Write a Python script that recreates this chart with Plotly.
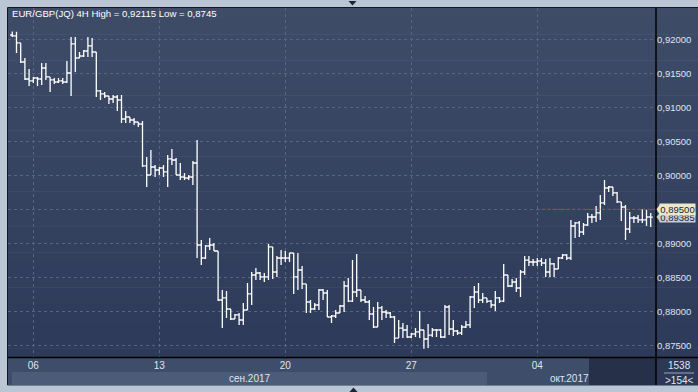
import plotly.graph_objects as go

# ---------------- data (EUR/GBP 4H bars) ----------------
opens = [0.92063,0.92049,0.91946,0.91666,0.91416,0.91387,0.91431,0.91416,0.91578,0.91446,
         0.91402,0.91372,0.91387,0.91372,0.91504,0.91931,0.91725,0.91754,0.91828,0.91902,
         0.91813,0.91240,0.91196,0.91166,0.91122,0.91151,0.91107,0.90828,0.90857,0.90813,
         0.90784,0.90754,0.90137,0.90004,0.90122,0.90078,0.90107,0.90049,0.90240,0.90225,
         0.90004,0.89975,0.89960,0.89975,0.90181,0.88975,0.88784,0.88960,0.88975,0.88887,
         0.88166,0.88196,0.88034,0.87887,0.87946,0.87872,0.88019,0.88255,0.88534,0.88563,
         0.88505,0.88505,0.88946,0.88578,0.88784,0.88784,0.88784,0.88857,0.88505,0.88607,
         0.88402,0.88137,0.88034,0.88093,0.88313,0.88269,0.87916,0.87931,0.87975,0.88078,
         0.88372,0.88151,0.88284,0.88313,0.88166,0.88137,0.87960,0.87769,0.88049,0.87990,
         0.87975,0.87916,0.87607,0.87754,0.87725,0.87622,0.87666,0.87696,0.87725,0.87593,
         0.87651,0.87725,0.87725,0.87622,0.88063,0.87740,0.87710,0.87681,0.87769,0.87799,
         0.88210,0.88284,0.88166,0.88196,0.88151,0.88093,0.88196,0.88151,0.88534,0.88372,
         0.88431,0.88343,0.88578,0.88754,0.88725,0.88725,0.88740,0.88710,0.88578,0.88696,
         0.88622,0.88784,0.88828,0.88784,0.89254,0.89299,0.89166,0.89269,0.89387,0.89387,
         0.89446,0.89593,0.89813,0.89828,0.89740,0.89608,0.89534,0.89210,0.89372,0.89372,
         0.89343,0.89343,0.89387]
highs = [0.92115,0.92110,0.91946,0.91725,0.91563,0.91446,0.91446,0.91651,0.91651,0.91446,
         0.91431,0.91431,0.91431,0.91681,0.92034,0.92034,0.91813,0.91843,0.92034,0.92019,
         0.91813,0.91254,0.91225,0.91166,0.91181,0.91181,0.91181,0.90946,0.90857,0.90843,
         0.90784,0.90799,0.90269,0.90372,0.90152,0.90122,0.90152,0.90299,0.90387,0.90255,
         0.90181,0.90034,0.90004,0.90210,0.90519,0.89049,0.88975,0.89078,0.89005,0.88887,
         0.88313,0.88299,0.88034,0.87960,0.87975,0.88122,0.88416,0.88578,0.88637,0.88578,
         0.88563,0.88990,0.88946,0.88813,0.88901,0.88887,0.88857,0.88857,0.88857,0.88666,
         0.88402,0.88166,0.88122,0.88328,0.88328,0.88313,0.87946,0.88019,0.88093,0.88446,
         0.88490,0.88754,0.88843,0.88313,0.88225,0.88166,0.88063,0.88137,0.88078,0.88019,
         0.87990,0.87931,0.87872,0.87828,0.87799,0.87681,0.87754,0.88005,0.87725,0.87813,
         0.87754,0.87740,0.87740,0.88093,0.88093,0.87872,0.87725,0.87799,0.87857,0.88225,
         0.88372,0.88416,0.88269,0.88196,0.88166,0.88299,0.88210,0.88696,0.88534,0.88475,
         0.88490,0.88607,0.88813,0.88813,0.88769,0.88784,0.88784,0.88769,0.88784,0.88710,
         0.88799,0.88843,0.88843,0.89343,0.89313,0.89328,0.89299,0.89446,0.89431,0.89549,
         0.89710,0.89931,0.89843,0.89828,0.89755,0.89608,0.89563,0.89460,0.89402,0.89416,
         0.89505,0.89490,0.89446]
lows = [0.92034,0.91799,0.91651,0.91402,0.91313,0.91357,0.91313,0.91328,0.91402,0.91225,
        0.91343,0.91357,0.91343,0.91357,0.91166,0.91519,0.91725,0.91740,0.91740,0.91740,
        0.91151,0.91107,0.91137,0.91049,0.91063,0.90946,0.90769,0.90769,0.90769,0.90740,
        0.90710,0.90122,0.89828,0.90004,0.89975,0.90004,0.89975,0.89828,0.90152,0.90004,
        0.89931,0.89931,0.89931,0.89857,0.88784,0.88681,0.88769,0.88901,0.88887,0.88151,
        0.87754,0.87902,0.87872,0.87887,0.87799,0.87799,0.88019,0.88093,0.88460,0.88460,
        0.88431,0.88460,0.88475,0.88505,0.88681,0.88725,0.88725,0.88255,0.88313,0.88328,
        0.87975,0.87975,0.88019,0.88019,0.88166,0.87916,0.87828,0.87902,0.87975,0.87990,
        0.88137,0.88137,0.88210,0.88137,0.88122,0.87872,0.87754,0.87769,0.87872,0.87902,
        0.87902,0.87534,0.87607,0.87607,0.87607,0.87607,0.87622,0.87607,0.87450,0.87460,
        0.87622,0.87622,0.87607,0.87607,0.87651,0.87637,0.87651,0.87651,0.87754,0.87754,
        0.88049,0.88122,0.88122,0.88122,0.88049,0.88005,0.88122,0.88137,0.88357,0.88357,
        0.88284,0.88210,0.88534,0.88666,0.88666,0.88666,0.88666,0.88505,0.88505,0.88505,
        0.88622,0.88769,0.88754,0.88754,0.89078,0.89093,0.89122,0.89254,0.89299,0.89313,
        0.89343,0.89563,0.89755,0.89696,0.89593,0.89328,0.89049,0.89152,0.89299,0.89299,
        0.89299,0.89254,0.89240]
closes = [0.92049,0.91946,0.91666,0.91416,0.91387,0.91431,0.91416,0.91578,0.91446,0.91402,
          0.91372,0.91387,0.91372,0.91504,0.91931,0.91725,0.91754,0.91828,0.91902,0.91813,
          0.91240,0.91196,0.91166,0.91122,0.91151,0.91107,0.90828,0.90857,0.90813,0.90784,
          0.90754,0.90137,0.90004,0.90122,0.90078,0.90107,0.90049,0.90240,0.90225,0.90004,
          0.89975,0.89960,0.89975,0.90181,0.88975,0.88784,0.88960,0.88975,0.88887,0.88166,
          0.88196,0.88034,0.87887,0.87946,0.87872,0.88019,0.88255,0.88534,0.88563,0.88505,
          0.88505,0.88946,0.88578,0.88784,0.88784,0.88784,0.88857,0.88505,0.88607,0.88402,
          0.88137,0.88034,0.88093,0.88313,0.88269,0.87916,0.87931,0.87975,0.88078,0.88372,
          0.88151,0.88284,0.88313,0.88166,0.88137,0.87960,0.87769,0.88049,0.87990,0.87975,
          0.87916,0.87607,0.87754,0.87725,0.87622,0.87666,0.87696,0.87725,0.87593,0.87651,
          0.87725,0.87725,0.87622,0.88063,0.87740,0.87710,0.87681,0.87769,0.87799,0.88210,
          0.88284,0.88166,0.88196,0.88151,0.88093,0.88196,0.88151,0.88534,0.88372,0.88431,
          0.88343,0.88578,0.88754,0.88725,0.88725,0.88740,0.88710,0.88578,0.88696,0.88622,
          0.88784,0.88828,0.88784,0.89254,0.89299,0.89166,0.89269,0.89387,0.89387,0.89446,
          0.89593,0.89813,0.89828,0.89740,0.89608,0.89534,0.89210,0.89372,0.89372,0.89343,
          0.89343,0.89387,0.89385]
bar_index = list(range(len(closes)))

x_tick_vals = [5, 35, 65, 95, 125]
x_tick_text = ["06", "13", "20", "27", "04"]
y_tick_vals = [0.875, 0.880, 0.885, 0.890, 0.895, 0.900, 0.905, 0.910, 0.915, 0.920]
y_tick_text = ["0,87500", "0,88000", "0,88500", "0,89000", "0,89500",
               "0,90000", "0,90500", "0,91000", "0,91500", "0,92000"]
month_labels = ["сен.2017", "окт.2017"]
title_text = "EUR/GBP(JQ) 4H High = 0,92115 Low = 0,8745"
level_price = 0.895
level_label = "0,89500"
last_label = "0,89385"
last_price = closes[-1]
bars_total = "1538"
bars_visible = ">154<"

# ---------------- layout geometry (pixels) ----------------
W, H = 698, 392
L, R, T, B = 8, 656, 8, 357
FONT = "Liberation Sans, Arial, sans-serif"
FS = 9
TXT = "#dde6f0"


def px(x):
    return (x - L) / (R - L)


def py(y):
    return (B - y) / (B - T)


fig = go.Figure()
fig.add_trace(go.Ohlc(
    x=bar_index, open=opens, high=highs, low=lows, close=closes,
    increasing=dict(line=dict(color="#ffffff", width=1.3)),
    decreasing=dict(line=dict(color="#ffffff", width=1.3)),
    tickwidth=0.5, hoverinfo="skip", showlegend=False,
))

shapes = []
# gradient background for plot + right axis panel
top_c = (62, 76, 104)
bot_c = (45, 58, 89)
n = 40
for k in range(n):
    y0 = T + (B - T) * k / n
    y1 = T + (B - T) * (k + 1) / n
    f = (k + 0.5) / n
    c = tuple(int(round(top_c[j] + (bot_c[j] - top_c[j]) * f)) for j in range(3))
    shapes.append(dict(type="rect", xref="paper", yref="paper", layer="below",
                       x0=px(L), x1=px(W), y0=py(y1 + 0.5), y1=py(y0),
                       fillcolor="rgb(%d,%d,%d)" % c, line=dict(width=0)))
# bottom axis panel
shapes += [
    dict(type="rect", xref="paper", yref="paper", layer="below", x0=px(L), x1=px(R),
         y0=py(385), y1=py(357), fillcolor="#3e4d6a", line=dict(width=0)),
    dict(type="rect", xref="paper", yref="paper", layer="below", x0=px(12), x1=px(487),
         y0=py(385), y1=py(372), fillcolor="#4b5b78", line=dict(width=0)),
    dict(type="rect", xref="paper", yref="paper", layer="below", x0=px(589), x1=px(R),
         y0=py(385), y1=py(357), fillcolor="#263049", line=dict(width=0)),
    dict(type="rect", xref="paper", yref="paper", layer="below", x0=px(R), x1=px(W),
         y0=py(385), y1=py(357), fillcolor="#2c3856", line=dict(width=0)),
]
# frame lines
dark = "#11161f"
shapes += [
    dict(type="line", xref="paper", yref="paper", x0=px(7.5), x1=px(7.5), y0=py(385), y1=py(7.5),
         line=dict(color=dark, width=1)),
    dict(type="line", xref="paper", yref="paper", x0=px(7.5), x1=px(W), y0=py(7.5), y1=py(7.5),
         line=dict(color=dark, width=1)),
    dict(type="line", xref="paper", yref="paper", x0=px(656), x1=px(656), y0=py(385), y1=py(8),
         line=dict(color="#000000", width=1.5)),
    dict(type="line", xref="paper", yref="paper", x0=px(8), x1=px(W), y0=py(357.5), y1=py(357.5),
         line=dict(color="#000000", width=1.5)),
    dict(type="line", xref="paper", yref="paper", x0=px(7.5), x1=px(W), y0=py(385.5), y1=py(385.5),
         line=dict(color="#6f7f96", width=1)),
    dict(type="line", xref="paper", yref="paper", x0=px(664), x1=px(694), y0=py(373), y1=py(373),
         line=dict(color="#9aa8bc", width=1)),
]
# small scroll arrows at top and bottom
shapes += [
    dict(type="path", xref="paper", yref="paper",
         path="M %f %f L %f %f L %f %f Z" % (px(348.5), py(1), px(356.5), py(1), px(352.5), py(5.5)),
         fillcolor="#1d2533", line=dict(width=0)),
    dict(type="path", xref="paper", yref="paper",
         path="M %f %f L %f %f L %f %f Z" % (px(349.5), py(392), px(357.5), py(392), px(353.5), py(387.5)),
         fillcolor="#1d2533", line=dict(width=0)),
]
# red level line (from the last week gridline to the right edge)
shapes.append(dict(type="line", xref="x", yref="y", x0=x_tick_vals[-1], x1=bar_index[-1] + 1.3,
                   y0=level_price, y1=level_price, layer="above",
                   line=dict(color="#c8383a", width=1, dash="3px,2px")))
# price tag pointers
shapes += [
    dict(type="path", xref="paper", yref="y",
         path="M %f %f L %f %f L %f %f Z" % (px(656.5), last_price, px(660.5), last_price + 0.0008,
                                             px(660.5), last_price - 0.0008),
         fillcolor="#c9cfd8", line=dict(width=0)),
    dict(type="path", xref="paper", yref="y",
         path="M %f %f L %f %f L %f %f Z" % (px(656.5), level_price, px(660.5), level_price + 0.0008,
                                             px(660.5), level_price - 0.0008),
         fillcolor="#ebe7c8", line=dict(width=0)),
]

annotations = [
    dict(text=title_text, xref="paper", yref="paper", x=px(10), y=py(14), xanchor="left",
         yanchor="middle", showarrow=False, font=dict(family=FONT, size=FS + 0.6, color="#ffffff")),
    dict(text=month_labels[0], xref="paper", yref="paper", x=px(250), y=py(378.5),
         xanchor="center", yanchor="middle", showarrow=False,
         font=dict(family=FONT, size=FS + 1, color=TXT)),
    dict(text=month_labels[1], xref="paper", yref="paper", x=px(591), y=py(378.5),
         xanchor="right", yanchor="middle", showarrow=False,
         font=dict(family=FONT, size=FS + 1, color=TXT)),
    dict(text=bars_total, xref="paper", yref="paper", x=px(679), y=py(365.5),
         xanchor="center", yanchor="middle", showarrow=False,
         font=dict(family=FONT, size=FS + 1, color=TXT)),
    dict(text=bars_visible, xref="paper", yref="paper", x=px(679), y=py(380),
         xanchor="center", yanchor="middle", showarrow=False,
         font=dict(family=FONT, size=FS + 1, color=TXT)),
    dict(text=last_label, xref="paper", yref="y", x=px(659), y=last_price,
         xanchor="left", yanchor="middle", showarrow=False, width=35, height=10,
         bgcolor="#c9cfd8", borderpad=0,
         font=dict(family=FONT, size=FS + 0.5, color="#1b2536")),
    dict(text=level_label, xref="paper", yref="y", x=px(659), y=level_price,
         xanchor="left", yanchor="middle", showarrow=False, width=35, height=11,
         bgcolor="#ebe7c8", borderpad=0,
         font=dict(family=FONT, size=FS + 0.5, color="#1b2536")),
]

grid = "#56667f"
fig.update_layout(
    width=W, height=H,
    margin=dict(l=L, r=W - R, t=T, b=H - B, pad=0, autoexpand=False),
    paper_bgcolor="#bac6d4",
    plot_bgcolor="rgba(0,0,0,0)",
    showlegend=False,
    hovermode=False,
    shapes=shapes,
    annotations=annotations,
    font=dict(family=FONT, size=FS, color=TXT),
    xaxis=dict(
        range=[(L - 12.3) / 4.2, (R - 12.3) / 4.2],
        rangeslider=dict(visible=False),
        automargin=False,
        tickmode="array", tickvals=x_tick_vals, ticktext=x_tick_text,
        showgrid=True, gridcolor=grid, griddash="3px,3px", gridwidth=1,
        zeroline=False, showline=False, ticks="", ticklabelstandoff=1,
        tickfont=dict(family=FONT, size=FS + 1, color=TXT),
        fixedrange=True,
    ),
    yaxis=dict(
        side="right",
        automargin=False,
        range=[0.87328, 0.92460],
        tickmode="array", tickvals=y_tick_vals, ticktext=y_tick_text,
        showgrid=True, gridcolor=grid, griddash="3px,3px", gridwidth=1,
        zeroline=False, showline=False, ticks="", ticklabelstandoff=0,
        tickfont=dict(family=FONT, size=FS + 0.5, color=TXT),
        fixedrange=True,
    ),
)

fig.write_html("out.html", config=dict(displayModeBar=False, staticPlot=True))
